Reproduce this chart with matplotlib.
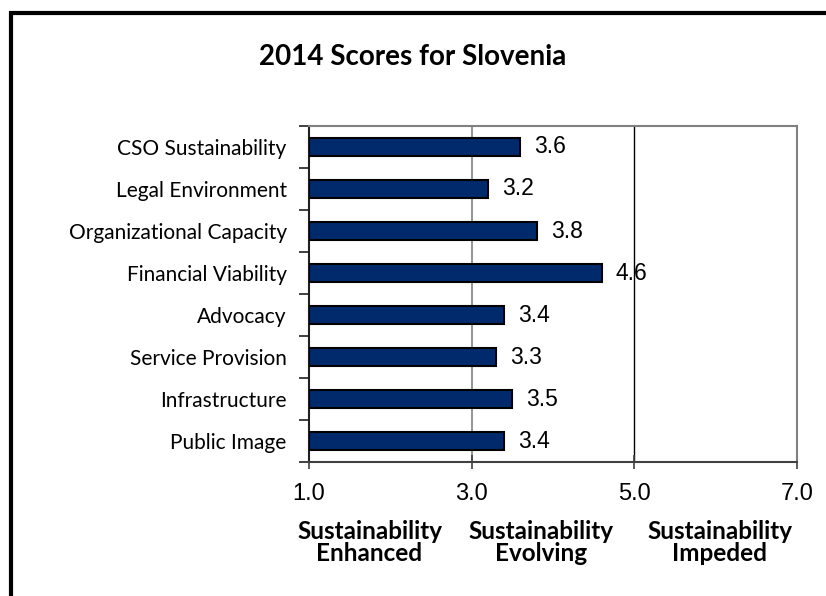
import matplotlib
matplotlib.use('Agg')
import matplotlib.pyplot as plt
from matplotlib.patches import Rectangle

# scores per dimension, top to bottom
categories = ['CSO Sustainability', 'Legal Environment', 'Organizational Capacity',
              'Financial Viability', 'Advocacy', 'Service Provision',
              'Infrastructure', 'Public Image']
scores = [3.6, 3.2, 3.8, 4.6, 3.4, 3.3, 3.5, 3.4]
xticks = [1.0, 3.0, 5.0, 7.0]
bands = ['Sustainability\nEnhanced', 'Sustainability\nEvolving', 'Sustainability\nImpeded']

bar_color = '#002a6c'
label_font = 'Lato'
num_font = 'Liberation Sans'

fig = plt.figure(figsize=(8.26, 5.96), dpi=100)
ax = fig.add_axes([0.374, 0.2248, 0.591, 0.5638])

ypos = list(range(len(categories)))[::-1]
ax.barh(ypos, [s - 1.0 for s in scores], left=1.0, height=0.45,
        color=bar_color, edgecolor='black', linewidth=1.5, zorder=3)

for y, s in zip(ypos, scores):
    ax.annotate('%.1f' % s, xy=(s, y), xytext=(10, 0), textcoords='offset points',
                ha='left', va='center', fontsize=16.5, family=num_font, zorder=4)

ax.set_xlim(1.0, 7.0)
ax.set_ylim(-0.5, len(categories) - 0.5)

# grid lines for the band boundaries
ax.axvline(3.0, color='#808080', lw=1.2, zorder=1)
ax.axvline(5.0, color='black', lw=1.0, zorder=1)

ax.set_xticks(xticks)
ax.set_xticklabels(['%.1f' % t for t in xticks], family=num_font, fontsize=17)
ax.tick_params(axis='x', length=10, width=1.2, color='#404040', pad=10, direction='inout')

# category labels centred in slots, ticks on slot boundaries
ax.set_yticks(ypos)
ax.set_yticklabels(categories, family=label_font, fontsize=15)
ax.set_yticks([i - 0.5 for i in range(len(categories) + 1)], minor=True)
ax.tick_params(axis='y', which='major', length=0, pad=16)
ax.tick_params(axis='y', which='minor', length=7, width=1.2, color='#202020', direction='out')

for side in ['top', 'right', 'bottom']:
    ax.spines[side].set_color('#808080')
    ax.spines[side].set_linewidth(1.5)
ax.spines['bottom'].set_color('#404040')
ax.spines['left'].set_color('#202020')
ax.spines['left'].set_linewidth(1.5)

fig.text(0.5, 0.904, '2014 Scores for Slovenia', ha='center', va='center',
         family=label_font, fontweight='bold', fontsize=20)

band_x = [369.5 / 826, 541 / 826, 720 / 826]
for bx, txt in zip(band_x, bands):
    fig.text(bx, 0.1275, txt, ha='center', va='top', family=label_font,
             fontweight='bold', fontsize=17.5, linespacing=0.95)

# outer frame (right and bottom edges fall off the canvas)
fig.patches.append(Rectangle((11 / 826, -0.1), 1.2, 1.0 - 13 / 596 + 0.1,
                             transform=fig.transFigure, fill=False,
                             edgecolor='black', linewidth=3))

fig.savefig('out.png', dpi=100)
